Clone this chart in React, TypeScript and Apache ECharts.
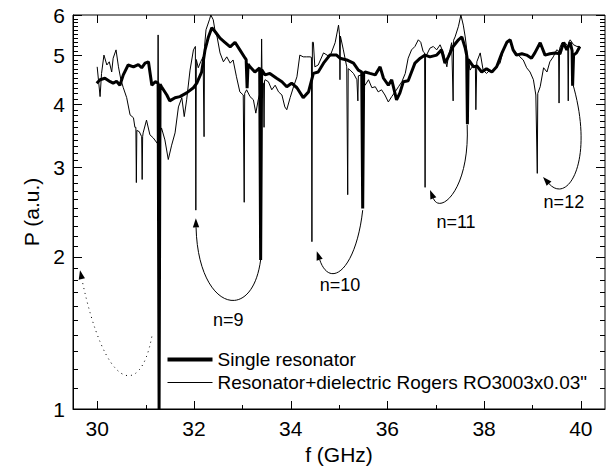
import React, { useEffect, useRef } from "react";
import * as echarts from "echarts";

const FONT = '"Liberation Sans", Arial, Helvetica, sans-serif';

const X_MIN = 29.5;
const X_MAX = 40.5;
const Y_MIN = 1;
const Y_MAX = 6;

const xMajorTicks = [30, 32, 34, 36, 38, 40];
const xMinorTicks = [31, 33, 35, 37, 39];
const yMajorTicks = [1, 2, 3, 4, 5, 6];
const yMinorTicks = [
  1.1, 1.2, 1.3, 1.4, 1.5, 1.6, 1.7, 1.8, 1.9,
  2.1, 2.2, 2.3, 2.4, 2.5, 2.6, 2.7, 2.8, 2.9,
  3.1, 3.2, 3.3, 3.4, 3.5, 3.6, 3.7, 3.8, 3.9,
  4.1, 4.2, 4.3, 4.4, 4.5, 4.6, 4.7, 4.8, 4.9,
  5.1, 5.2, 5.3, 5.4, 5.5, 5.6, 5.7, 5.8, 5.9,
];

const seriesNames = ["Single resonator", 'Resonator+dielectric Rogers RO3003x0.03"'];

// [f (GHz), P (a.u.)]
const singleResonator: [number, number][] = [
  [29.99, 4.4], [30.06, 4.47], [30.16, 4.5], [30.27, 4.43], [30.33, 4.4], [30.4, 4.44],
  [30.47, 4.36], [30.54, 4.57], [30.64, 4.78], [30.75, 4.74], [30.85, 4.79], [30.92, 4.72],
  [30.99, 4.82], [31.06, 4.85], [31.13, 4.36], [31.2, 4.43], [31.26, 4.4], [31.28, 1.0],
  [31.3, 4.38], [31.33, 4.33], [31.44, 4.17], [31.5, 4.06], [31.61, 4.12], [31.71, 4.14],
  [31.85, 4.21], [31.99, 4.31], [32.06, 4.4], [32.16, 4.63], [32.23, 5.12], [32.3, 5.43],
  [32.37, 5.66], [32.44, 5.56], [32.54, 5.4], [32.64, 5.3], [32.75, 5.19], [32.85, 5.3],
  [32.95, 5.12], [33.06, 4.93], [33.08, 4.9], [33.1, 4.3], [33.12, 4.8], [33.16, 4.74],
  [33.26, 4.63], [33.36, 4.72], [33.38, 1.97], [33.4, 4.68], [33.47, 4.57], [33.57, 4.6],
  [33.71, 4.5], [33.82, 4.43], [33.92, 4.33], [34.02, 4.4], [34.13, 4.31], [34.26, 4.12],
  [34.37, 4.23], [34.47, 4.6], [34.57, 4.63], [34.68, 4.82], [34.81, 5.0], [34.95, 5.0],
  [35.02, 4.93], [35.16, 4.89], [35.3, 4.82], [35.4, 4.67], [35.47, 4.63], [35.49, 2.49],
  [35.51, 4.6], [35.54, 4.63], [35.64, 4.6], [35.75, 4.57], [35.85, 4.74], [35.92, 4.5],
  [36.02, 4.36], [36.09, 4.47], [36.19, 4.08], [36.26, 4.21], [36.33, 4.43], [36.43, 4.45],
  [36.5, 4.63], [36.57, 4.82], [36.68, 4.93], [36.78, 5.0], [36.88, 4.96], [37.02, 5.0],
  [37.12, 5.12], [37.19, 4.82], [37.26, 4.96], [37.36, 5.2], [37.47, 5.36], [37.54, 5.43],
  [37.61, 5.16], [37.64, 5.0], [37.655, 3.65], [37.67, 4.9], [37.71, 4.85], [37.78, 4.74],
  [37.85, 4.76], [37.95, 4.63], [38.05, 4.7], [38.16, 4.63], [38.26, 4.74], [38.37, 5.05],
  [38.47, 5.3], [38.54, 5.36], [38.6, 5.12], [38.67, 5.0], [38.78, 5.03], [38.88, 5.0],
  [38.98, 4.93], [39.05, 5.05], [39.16, 5.29], [39.26, 5.0], [39.36, 5.03], [39.47, 5.05],
  [39.57, 5.03], [39.64, 5.29], [39.71, 5.12], [39.78, 5.3], [39.82, 5.1], [39.83, 4.35],
  [39.85, 5.0], [39.91, 5.05], [39.98, 5.2],
];

const withDielectric: [number, number][] = [
  [30.0, 4.74], [30.06, 4.14], [30.09, 4.6], [30.14, 5.0], [30.2, 4.78], [30.25, 4.85],
  [30.3, 4.63], [30.33, 4.93], [30.39, 5.12], [30.44, 4.74], [30.49, 4.47], [30.54, 4.31],
  [30.61, 4.12], [30.68, 3.81], [30.75, 3.76], [30.78, 3.6], [30.8, 3.6], [30.81, 2.8],
  [30.82, 3.55], [30.87, 3.53], [30.92, 3.45], [30.93, 2.84], [30.94, 3.45], [30.95, 3.51],
  [31.02, 3.72], [31.09, 3.48], [31.16, 3.43], [31.24, 3.35], [31.25, 3.4], [31.26, 5.48],
  [31.27, 3.4], [31.33, 3.59], [31.4, 3.4], [31.47, 3.11], [31.54, 3.32], [31.61, 3.51],
  [31.68, 3.95], [31.75, 4.12], [31.8, 3.78], [31.85, 4.08], [31.92, 4.67], [31.99, 5.12],
  [32.03, 5.2], [32.04, 2.47], [32.05, 4.9], [32.09, 4.72], [32.14, 4.85], [32.19, 4.96],
  [32.21, 3.45], [32.22, 5.2], [32.25, 5.61], [32.32, 5.87], [32.35, 6.0], [32.4, 5.87],
  [32.44, 5.56], [32.48, 5.43], [32.54, 5.05], [32.61, 4.85], [32.68, 4.96], [32.75, 4.82],
  [32.81, 4.89], [32.88, 4.53], [32.95, 4.23], [33.02, 4.17], [33.04, 2.56], [33.05, 4.2],
  [33.09, 4.27], [33.16, 4.14], [33.23, 4.08], [33.28, 3.84], [33.33, 4.08], [33.39, 4.3],
  [33.4, 5.38], [33.41, 4.4], [33.44, 4.4], [33.45, 3.6], [33.46, 4.45], [33.47, 4.47],
  [33.54, 4.43], [33.61, 4.27], [33.68, 4.36], [33.75, 4.23], [33.82, 4.17], [33.88, 3.95],
  [33.92, 3.9], [33.99, 4.12], [34.06, 4.33], [34.13, 4.53], [34.19, 5.0], [34.26, 4.96],
  [34.33, 4.96], [34.4, 4.96], [34.43, 4.95], [34.44, 2.14], [34.45, 5.3], [34.47, 5.3],
  [34.5, 4.74], [34.57, 4.78], [34.68, 5.05], [34.81, 4.96], [34.92, 5.29], [34.99, 5.73],
  [35.01, 5.5], [35.02, 4.47], [35.03, 5.45], [35.09, 5.12], [35.16, 4.74], [35.18, 2.65],
  [35.19, 4.7], [35.23, 4.67], [35.3, 4.6], [35.37, 4.47], [35.39, 4.06], [35.4, 4.55],
  [35.47, 4.57], [35.54, 4.36], [35.61, 4.47], [35.68, 4.31], [35.75, 4.33], [35.81, 4.23],
  [35.88, 4.27], [35.95, 4.17], [36.02, 4.04], [36.09, 4.14], [36.16, 4.23], [36.23, 4.33],
  [36.3, 4.43], [36.37, 4.6], [36.43, 4.93], [36.5, 5.12], [36.57, 5.2], [36.64, 5.36],
  [36.69, 5.3], [36.74, 5.08], [36.77, 5.05], [36.78, 2.74], [36.79, 5.0], [36.81, 5.0],
  [36.88, 5.16], [36.95, 5.2], [37.02, 5.12], [37.09, 5.24], [37.16, 5.05], [37.23, 4.74],
  [37.26, 4.96], [37.33, 5.29], [37.36, 4.06], [37.37, 5.35], [37.4, 5.43], [37.47, 5.7],
  [37.52, 6.0], [37.57, 5.73], [37.61, 5.43], [37.65, 5.05], [37.71, 4.67], [37.78, 4.78],
  [37.82, 4.75], [37.83, 3.9], [37.85, 4.85], [37.92, 5.05], [37.98, 4.67], [38.05, 4.6],
  [38.12, 4.67], [38.19, 4.63], [38.26, 4.74], [38.33, 4.82], [38.4, 5.12], [38.47, 5.3],
  [38.54, 5.36], [38.6, 5.12], [38.67, 5.05], [38.74, 4.96], [38.81, 4.89], [38.88, 4.72],
  [38.95, 4.63], [39.02, 4.47], [39.07, 4.17], [39.1, 2.92], [39.11, 4.2], [39.16, 4.33],
  [39.23, 4.72], [39.3, 4.63], [39.36, 4.85], [39.43, 4.96], [39.5, 5.12], [39.54, 5.1],
  [39.55, 4.02], [39.56, 5.15], [39.61, 5.29], [39.67, 5.3], [39.73, 5.2], [39.74, 4.06],
  [39.75, 5.3], [39.78, 5.36], [39.85, 5.24], [39.92, 5.2], [39.98, 5.2],
];

// Mode-shift annotations: cubic curve points [start, control1, control2, end] in data space
const modeLabels = ["", "n=9", "n=10", "n=11", "n=12"];
const modeLabelPos: [number, number][] = [
  [30.5, 1.2], [32.71, 1.5], [35.02, 1.76], [37.42, 2.34], [39.65, 2.56],
];
const modeArrows: [number, number][][] = [
  [[31.13, 1.39], [30.885, 1.042], [30.162, 1.09], [29.645, 1.88]],
  [[33.38, 1.97], [33.2, 1.465], [32.085, 1.569], [32.04, 2.38]],
  [[35.49, 2.47], [35.352, 1.882], [34.814, 1.718], [34.54, 2.05]],
  [[37.65, 3.64], [37.709, 2.707], [37.089, 2.416], [36.882, 2.707]],
  [[39.83, 4.4], [40.294, 3.1], [39.736, 2.529], [39.219, 2.872]],
];
const modeArrowDotted = [true, false, false, false, false];

function App() {
  const ref = useRef<HTMLDivElement>(null);

  useEffect(() => {
    if (!ref.current) return;
    const chart = echarts.init(ref.current, null, { renderer: "svg" });

    // [x, y, axis (0 = x axis, 1 = y axis), major]
    const tickData = [
      ...xMajorTicks.map((v) => [v, Y_MIN, 0, 1]),
      ...xMinorTicks.map((v) => [v, Y_MIN, 0, 0]),
      ...yMajorTicks.map((v) => [X_MIN, v, 1, 1]),
      ...yMinorTicks.map((v) => [X_MIN, v, 1, 0]),
    ];

    const option: any = {
      animation: false,
      grid: {
        show: true,
        left: 73,
        right: 2,
        top: 15,
        bottom: 63,
        borderColor: "#000",
        borderWidth: 1,
        backgroundColor: "transparent",
      },
      xAxis: {
        type: "value",
        min: X_MIN,
        max: X_MAX,
        name: "f (GHz)",
        nameLocation: "middle",
        nameGap: 35,
        nameTextStyle: { fontSize: 21, color: "#000", fontFamily: FONT },
        axisLine: { show: true, onZero: false, lineStyle: { color: "#000", width: 1 } },
        axisTick: { show: false },
        axisLabel: {
          customValues: xMajorTicks,
          margin: 9,
          fontSize: 21,
          color: "#000",
          fontFamily: FONT,
        },
        splitLine: { show: false },
      },
      yAxis: {
        type: "log",
        min: Y_MIN,
        max: Y_MAX,
        name: "P (a.u.)",
        nameLocation: "middle",
        nameGap: 31,
        nameRotate: 90,
        nameTextStyle: { fontSize: 21, color: "#000", fontFamily: FONT },
        axisLine: { show: true, onZero: false, lineStyle: { color: "#000", width: 1 } },
        axisTick: { show: false },
        axisLabel: { show: false },
        splitLine: { show: false },
      },
      series: [
        {
          name: seriesNames[1],
          type: "line",
          data: withDielectric,
          symbol: "none",
          lineStyle: { color: "#000", width: 1 },
        },
        {
          name: seriesNames[0],
          type: "line",
          data: singleResonator,
          symbol: "none",
          lineStyle: { color: "#000", width: 3 },
        },
        {
          type: "custom",
          clip: false,
          data: tickData,
          encode: { x: 0, y: 1 },
          renderItem: (params: any, api: any) => {
            const xv = api.value(0);
            const yv = api.value(1);
            const isY = api.value(2) === 1;
            const major = api.value(3) === 1;
            const children: any[] = [];
            if (isY) {
              const len = major ? 9 : 5;
              const pl = api.coord([X_MIN, yv]);
              const pr = api.coord([X_MAX, yv]);
              const y = Math.round(pl[1]);
              children.push({ type: "rect", shape: { x: pl[0], y, width: len, height: 1 }, style: { fill: "#000" } });
              children.push({ type: "rect", shape: { x: pr[0] - len, y, width: len, height: 1 }, style: { fill: "#000" } });
              if (major) {
                children.push({
                  type: "text",
                  style: {
                    text: String(yv),
                    x: pl[0] - 8,
                    y: pl[1],
                    align: "right",
                    verticalAlign: "middle",
                    fontSize: 21,
                    fontFamily: FONT,
                    fill: "#000",
                  },
                });
              }
            } else {
              const xlen = major ? 8 : 4;
              const pb = api.coord([xv, Y_MIN]);
              const pt = api.coord([xv, Y_MAX]);
              const x = Math.round(pb[0]);
              children.push({ type: "rect", shape: { x, y: pb[1] - xlen, width: 1, height: xlen }, style: { fill: "#000" } });
              children.push({ type: "rect", shape: { x, y: pt[1], width: 1, height: xlen }, style: { fill: "#000" } });
            }
            return { type: "group", children };
          },
        },
        {
          type: "custom",
          clip: false,
          data: modeLabelPos.map((p, i) => [p[0], p[1], i]),
          encode: { x: 0, y: 1 },
          renderItem: (params: any, api: any) => {
            const i = params.dataIndex;
            const pts = modeArrows[i].map((p) => api.coord(p));
            const [p0, c1, c2, p3] = pts;
            const dx = p3[0] - c2[0];
            const dy = p3[1] - c2[1];
            const d = Math.hypot(dx, dy) || 1;
            const ux = dx / d;
            const uy = dy / d;
            const L = 9;
            const W = 3.2;
            const bx = p3[0] - ux * L;
            const by = p3[1] - uy * L;
            const children: any[] = [
              {
                type: "bezierCurve",
                shape: {
                  x1: p0[0], y1: p0[1],
                  cpx1: c1[0], cpy1: c1[1],
                  cpx2: c2[0], cpy2: c2[1],
                  x2: bx, y2: by,
                },
                style: {
                  stroke: "#000",
                  lineWidth: 1,
                  fill: null,
                  lineDash: modeArrowDotted[i] ? [1, 4] : null,
                },
              },
              {
                type: "polygon",
                shape: {
                  points: [
                    [p3[0], p3[1]],
                    [bx - uy * W, by + ux * W],
                    [bx + uy * W, by - ux * W],
                  ],
                },
                style: { fill: "#000" },
              },
            ];
            if (modeLabels[i]) {
              const lp = api.coord(modeLabelPos[i]);
              children.push({
                type: "text",
                style: {
                  text: modeLabels[i],
                  x: lp[0],
                  y: lp[1],
                  align: "center",
                  verticalAlign: "middle",
                  fontSize: 18,
                  fontFamily: FONT,
                  fill: "#000",
                },
              });
            }
            return { type: "group", children };
          },
        },
      ],
      graphic: [
        {
          type: "group",
          left: 165,
          top: 350,
          children: [
            {
              type: "line",
              shape: { x1: 0, y1: 12, x2: 45, y2: 12 },
              style: { stroke: "#000", lineWidth: 4 },
            },
            {
              type: "text",
              x: 50,
              y: 12,
              style: {
                text: seriesNames[0],
                fontSize: 19,
                fontFamily: FONT,
                fill: "#000",
                verticalAlign: "middle",
                align: "left",
              },
            },
            {
              type: "line",
              shape: { x1: 0, y1: 35, x2: 45, y2: 35 },
              style: { stroke: "#000", lineWidth: 1 },
            },
            {
              type: "text",
              x: 50,
              y: 35,
              style: {
                text: seriesNames[1],
                fontSize: 19,
                fontFamily: FONT,
                fill: "#000",
                verticalAlign: "middle",
                align: "left",
              },
            },
          ],
        },
      ],
    };

    chart.setOption(option);
    return () => {
      chart.dispose();
    };
  }, []);

  return (
    <div
      ref={ref}
      style={{ position: "fixed", left: 0, top: 0, width: 607, height: 472, background: "#fff" }}
    />
  );
}

export default App;
